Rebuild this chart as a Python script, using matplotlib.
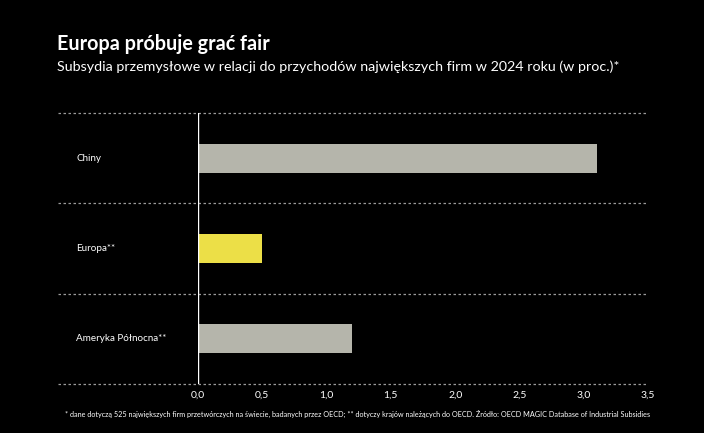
import matplotlib
matplotlib.use("Agg")
import matplotlib.pyplot as plt
from matplotlib.ticker import FuncFormatter

categories = ["Chiny", "Europa**", "Ameryka Północna**"]
values = [3.1, 0.5, 1.2]
colors = ["#b5b5ab", "#ecdf47", "#b5b5ab"]
xticks = [0.0, 0.5, 1.0, 1.5, 2.0, 2.5, 3.0, 3.5]

title = "Europa próbuje grać fair"
subtitle = "Subsydia przemysłowe w relacji do przychodów największych firm w 2024 roku (w proc.)*"
footnote = ("* dane dotyczą 525 największych firm przetwórczych na świecie, badanych przez OECD; "
            "** dotyczy krajów należących do OECD. Źródło: OECD MAGIC Database of Industrial Subsidies")

plt.rcParams['font.family'] = ['Lato', 'DejaVu Sans']

W, H = 704, 433
fig = plt.figure(figsize=(W / 100, H / 100), dpi=100, facecolor="black")
ax = fig.add_axes([198 / W, 1 - 384 / H, 450 / W, (384 - 113) / H], facecolor="black")

ypos = list(range(len(categories)))
ax.barh(ypos, values, height=0.32, color=colors, zorder=3)
ax.set_ylim(len(categories) - 0.5, -0.5)
ax.set_xlim(0, 3.5)

for s in ax.spines.values():
    s.set_visible(False)
ax.axvline(0, color="white", lw=1, zorder=4)

# dashed separators extending left past axes
bounds = [i - 0.5 for i in range(len(categories) + 1)]
for b in bounds:
    ax.plot([-0.311, 1.0], [b, b], transform=ax.get_yaxis_transform(), clip_on=False,
            color="#9a9a9a", lw=0.9, ls=(0, (2, 2)), zorder=2)

ax.set_yticks([])
for i, c in enumerate(categories):
    ax.text(-0.27, i, c, transform=ax.get_yaxis_transform(), color="white",
            fontsize=7.1, va="center", ha="left")

ax.set_xticks(xticks)
ax.xaxis.set_major_formatter(FuncFormatter(lambda v, p: f"{v:.1f}".replace(".", ",")))
ax.tick_params(axis="x", length=0, colors="white", labelsize=7.5, pad=5)

fig.text(57 / W, 1 - 44 / H, title, color="white", fontsize=14.2, fontweight="bold",
         va="center", ha="left")
fig.text(57 / W, 1 - 67 / H, subtitle, color="white", fontsize=10.3,
         va="center", ha="left")
fig.text(358 / W, 1 - 414 / H, footnote, color="white", fontsize=5.2,
         va="center", ha="center")

fig.savefig("out.png", dpi=100, facecolor="black")
